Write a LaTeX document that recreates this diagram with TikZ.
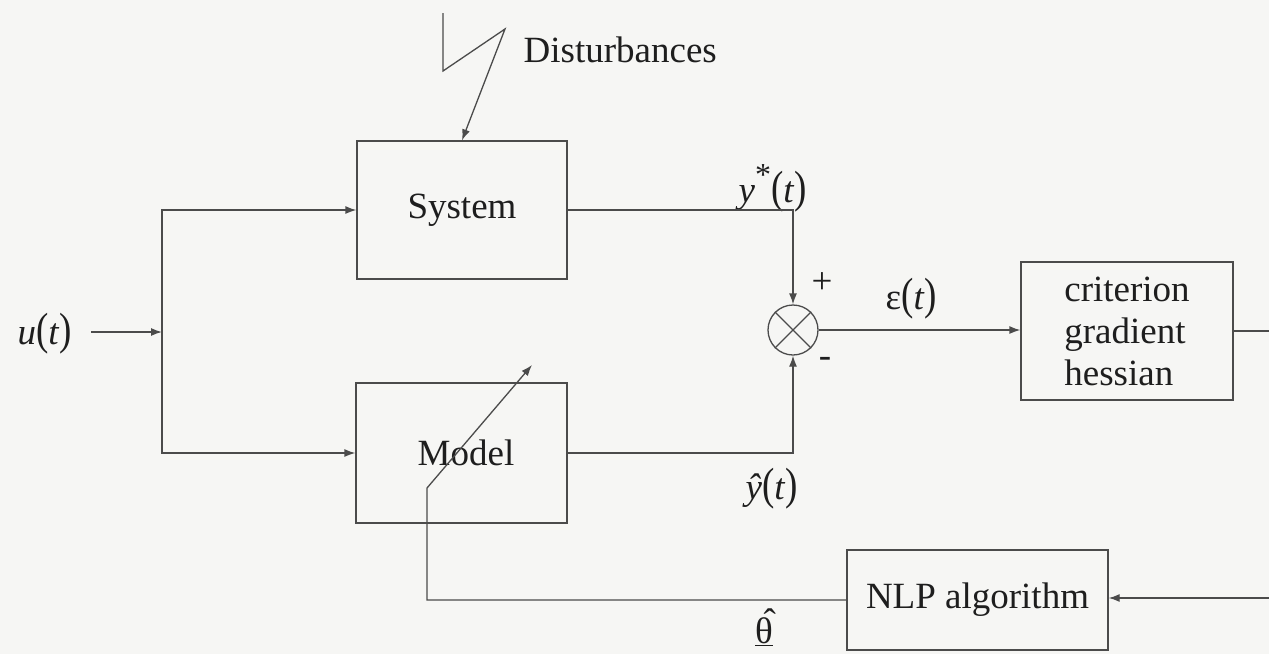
\documentclass[tikz,border=0pt]{standalone}
\usepackage{fontspec}
\usepackage{graphicx}
\setmainfont{Liberation Serif}
\usetikzlibrary{arrows.meta}
\definecolor{paper}{RGB}{246,246,244}
\definecolor{ink}{RGB}{75,75,75}
\definecolor{txt}{RGB}{30,30,30}
\newcommand{\lpar}{\scalebox{1}[1.22]{(}}
\newcommand{\rpar}{\scalebox{1}[1.22]{)}}
\begin{document}
\begin{tikzpicture}[x=1pt,y=-1pt,line width=1.3pt,
  every node/.style={font=\fontsize{37}{42}\selectfont, text=txt, inner sep=0pt},
  block/.style={draw=ink, line width=1.3pt},
  conn/.style={draw=ink, line width=1.3pt, -{Latex[length=11pt,width=8pt]}},
  wire/.style={draw=ink, line width=1.3pt}]
\fill[paper] (0,0) rectangle (1269,654);
\useasboundingbox (0,0) rectangle (1269,654);

% blocks
\node[block, minimum width=210pt, minimum height=138pt] (sys) at (462,210) {System};
\node[block, minimum width=211pt, minimum height=140pt] (mod) at (461.5,453) {\hspace*{9pt}Model};
\node[block, minimum width=212pt, minimum height=138pt, align=left] (crit) at (1127,331)
  {criterion\\gradient\\hessian};
\node[block, minimum width=261pt, minimum height=100pt] (nlp) at (977.5,600) {NLP algorithm};
\node[draw=ink, line width=1.3pt, circle, minimum size=50pt] (sum) at (793,330) {};
\draw[wire] (sum.north west) -- (sum.south east);
\draw[wire] (sum.north east) -- (sum.south west);

% labels
\node[anchor=base west] (ulab) at (17,344) {\textit{u}\lpar\textit{t}\rpar};
\node[anchor=base west] (ystar) at (738,202) {\textit{y}\raisebox{0.45em}{\fontsize{32}{32}\selectfont *}\lpar\textit{t}\rpar};
\node[anchor=base west] (yhat) at (745,499) {\textit{ŷ}\lpar\textit{t}\rpar};
\node[anchor=base west] (eps) at (885,309) {ε\lpar\textit{t}\rpar};
\node (plus) at (822,283) {+};
\node (minus) at (825,362) {-};
\node[anchor=base] (theta) at (764,643) {\underline{θ}\llap{\raisebox{0.24em}{ˆ}\kern-3pt}};
\node[anchor=base west] (dist) at (523,62) {Disturbances};

% input branch
\coordinate (br) at (162,332);
\draw[conn] ([xshift=19pt]ulab.east |- br) -- (br);
\draw[conn] (br) |- (sys.west);
\draw[conn] (br) |- (mod.west);

% outputs to comparator
\draw[conn] (sys.east) -| (sum.north);
\draw[conn] (mod.east) -| (sum.south);
\draw[conn] (sum.east) -- (sum.east -| crit.west);

% right side
\coordinate (rt1) at (1269,331);
\coordinate (rt2) at (1269,598);
\draw[wire] (crit.east) -- (rt1);
\draw[conn] (rt2) -- (rt2 -| nlp.east);

% feedback to model (adjustable parameter)
\coordinate (fb1) at (427,488);
\coordinate (fbtip) at (532,365);
\draw[conn] (nlp.west) -| (fb1) -- (fbtip);

% disturbances
\coordinate (d1) at (443,13);
\coordinate (d2) at (443,71);
\coordinate (d3) at (505,29);
\draw[conn] (d1) -- (d2) -- (d3) -- (sys.north);
\end{tikzpicture}
\end{document}
